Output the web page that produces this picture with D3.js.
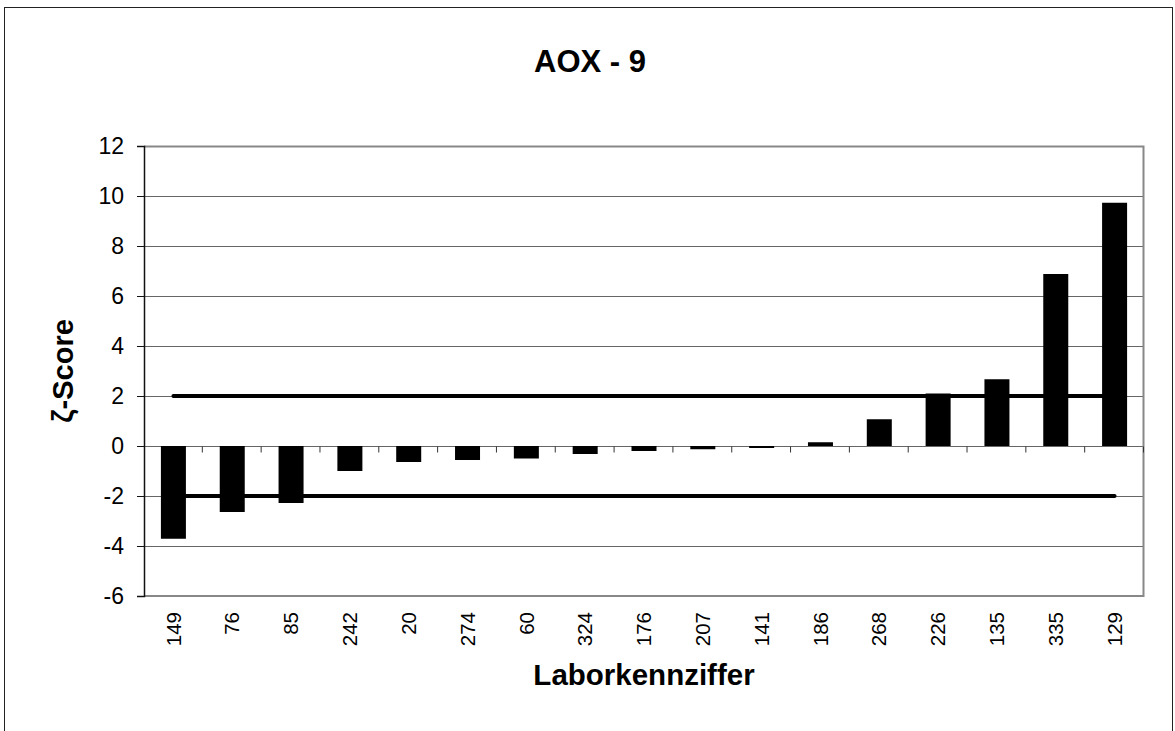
<!DOCTYPE html>
<html>
<head>
<meta charset="utf-8">
<script src="https://cdn.jsdelivr.net/npm/d3@7"></script>
<style>
  html, body { margin: 0; padding: 0; background: #fff; }
  svg { display: block; font-family: "Liberation Sans", Arial, sans-serif; }
</style>
</head>
<body>
<svg id="chart" width="1175" height="731"></svg>
<script>
// Laboratory codes, sorted by zeta score
const labs = ["149","76","85","242","20","274","60","324","176","207","141","186","268","226","135","335","129"];
const zetaScores = [-3.71,-2.64,-2.28,-1.0,-0.64,-0.56,-0.5,-0.32,-0.2,-0.13,-0.08,0.15,1.07,2.1,2.67,6.88,9.73];
const yTicks = [-6,-4,-2,0,2,4,6,8,10,12];
const limits = [2,-2];

const svg = d3.select("#chart");
const plotL = 144, plotR = 1144, plotT = 146, plotB = 596;

// outer chart frame
svg.append("rect")
  .attr("x", 4.5).attr("y", 7.5)
  .attr("width", 1168).attr("height", 740)
  .attr("fill", "#fff").attr("stroke", "#222").attr("stroke-width", 1);

const x = d3.scaleBand().domain(labs).range([plotL, plotR])
  .paddingInner(0.575).paddingOuter(0.2875);
const y = d3.scaleLinear().domain([-6, 12]).range([plotB, plotT]);

// gridlines
svg.append("g").selectAll("line").data(yTicks.filter(v => v !== 12 && v !== -6)).join("line")
  .attr("x1", plotL).attr("x2", plotR)
  .attr("y1", d => y(d) + 0.5).attr("y2", d => y(d) + 0.5)
  .attr("stroke", "#666").attr("stroke-width", 1);

// plot frame (top, right, bottom)
svg.append("path")
  .attr("d", `M${plotL},${plotT + 0.5}H${plotR - 0.5}V${plotB}H${plotL}`)
  .attr("fill", "none").attr("stroke", "#888").attr("stroke-width", 2);

// zero axis with category-boundary ticks
const step = x.step();
const zeroY = y(0) + 0.5;
svg.append("g").selectAll("line").data(d3.range(1, labs.length + 1)).join("line")
  .attr("x1", i => plotL + i * step - 0.5).attr("x2", i => plotL + i * step - 0.5)
  .attr("y1", zeroY).attr("y2", zeroY + 6)
  .attr("stroke", "#333").attr("stroke-width", 1);

// limit lines at +2 / -2
svg.append("g").selectAll("line").data(limits).join("line")
  .attr("x1", x(labs[0]) + x.bandwidth() / 2)
  .attr("x2", x(labs[labs.length - 1]) + x.bandwidth() / 2)
  .attr("y1", d => y(d)).attr("y2", d => y(d))
  .attr("stroke", "#000").attr("stroke-width", 4).attr("stroke-linecap", "round");

// bars
svg.append("g").selectAll("rect").data(labs.map((l, i) => ({ l, v: zetaScores[i] }))).join("rect")
  .attr("x", d => x(d.l))
  .attr("width", x.bandwidth())
  .attr("y", d => y(Math.max(0, d.v)))
  .attr("height", d => Math.abs(y(d.v) - y(0)))
  .attr("fill", "#000");

// y axis
const yAxis = svg.append("g")
  .attr("transform", `translate(${plotL},0)`)
  .call(d3.axisLeft(y).tickValues(yTicks).tickSize(7).tickPadding(13).tickFormat(d3.format("d")));
yAxis.select(".domain").attr("stroke", "#111").attr("stroke-width", 1.5);
yAxis.selectAll(".tick line").attr("stroke", "#111");
yAxis.selectAll("text").attr("font-size", 23).attr("fill", "#000")
  .attr("font-family", "'Liberation Sans', Arial, sans-serif")
  .text(d => d < 0 ? "-" + Math.abs(d) : d);

// category labels
const xAxis = svg.append("g")
  .attr("transform", `translate(0,${plotB})`)
  .call(d3.axisBottom(x).tickSize(0));
xAxis.select(".domain").remove();
xAxis.selectAll("text")
  .attr("font-size", 20.5).attr("fill", "#000")
  .attr("font-family", "'Liberation Sans', Arial, sans-serif")
  .attr("transform", "rotate(-90)")
  .attr("text-anchor", "end")
  .attr("x", -16).attr("y", 0).attr("dy", "0.35em");

// title
svg.append("text")
  .attr("x", 590).attr("y", 72)
  .attr("text-anchor", "middle")
  .attr("font-size", 31).attr("font-weight", "bold")
  .text("AOX - 9");

// axis titles
svg.append("text")
  .attr("x", (plotL + plotR) / 2).attr("y", 685)
  .attr("text-anchor", "middle")
  .attr("font-size", 29.5).attr("font-weight", "bold")
  .text("Laborkennziffer");

svg.append("text")
  .attr("transform", "translate(73,371) rotate(-90)")
  .attr("text-anchor", "middle")
  .attr("font-size", 29).attr("font-weight", "bold")
  .text("ζ-Score");
</script>
</body>
</html>
